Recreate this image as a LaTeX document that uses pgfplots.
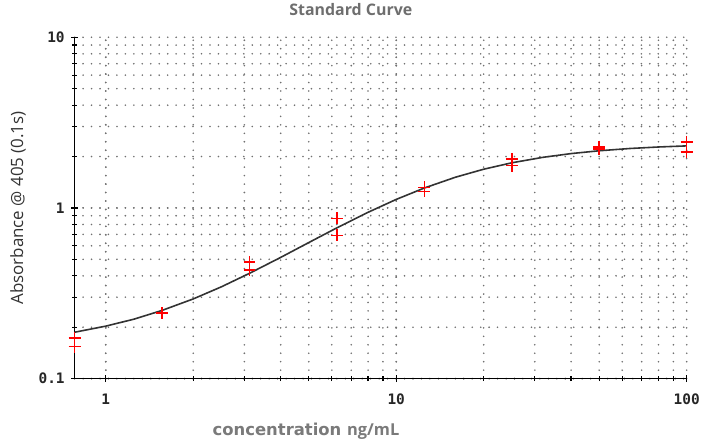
\documentclass[border=0pt]{standalone}
\usepackage{fontspec}
\setmainfont{Open Sans}
\newfontfamily\tickfont{DejaVu Sans Mono}
\newfontfamily\xlabfont{DejaVu Sans}
\usepackage{pgfplots}
\pgfplotsset{compat=1.18}
\definecolor{labgray}{HTML}{7A7A7A}
\definecolor{ylabgray}{HTML}{333333}
\definecolor{griddot}{HTML}{707070}
\begin{document}
\begin{tikzpicture}
\begin{axis}[
  scale only axis,
  width=615bp, height=343bp,
  xmode=log, ymode=log,
  xmin=0.78125, xmax=100,
  ymin=0.1, ymax=10,
  axis x line=bottom, axis y line=left,
  axis line style={line width=1.6bp, black, -},
  xtick={1,10,100}, xticklabels={1,10,100},
  ytick={0.1,1,10}, yticklabels={0.1,1,10},
  tick align=center,
  major tick length=7bp, minor tick length=5bp,
  every tick/.style={black, line width=1.2bp},
  grid=both,
  major grid style={griddot, line width=1.8bp, line cap=round, dash pattern=on 0bp off 8.5bp},
  minor grid style={griddot, line width=1.8bp, line cap=round, dash pattern=on 0bp off 8.5bp},
  ticklabel style={font=\tickfont\bfseries\fontsize{14.5bp}{16bp}\selectfont, text=black!85},
  xticklabel style={yshift=-8bp},
  yticklabel style={xshift=-3bp},
  title={\bfseries Standard Curve},
  title style={font=\fontsize{16bp}{18bp}\selectfont, text=labgray!90!black, at={(axis description cs:0.5,1)}, anchor=center, yshift=22bp, xshift=-30bp},
  xlabel={\xlabfont\bfseries concentration {\fontspec{Open Sans}\bfseries ng/mL}},
  xlabel style={font=\fontsize{16.5bp}{18bp}\selectfont, text=labgray, at={(axis description cs:0.5,0)}, anchor=center, yshift=-53bp, xshift=-75bp},
  ylabel={Absorbance @ 405 (0.1s)},
  ylabel style={font=\fontsize{17bp}{19bp}\selectfont, text=ylabgray, at={(axis description cs:0,0.5)}, anchor=center, yshift=57bp},
  clip=false,
]
\addplot[line width=1.6bp, black!80, no marks] coordinates {
 (0.78125,0.187) (1,0.203) (1.25,0.223) (1.5625,0.251) (2,0.293) (2.5,0.345)
 (3.125,0.414) (4,0.513) (5,0.627) (6.25,0.765) (8,0.943) (10,1.122)
 (12.5,1.309) (16,1.514) (20,1.686) (25,1.839) (32,1.980) (40,2.082)
 (50,2.163) (64,2.231) (80,2.276) (100,2.310)
};
\addplot[only marks, draw=red, mark=+, mark size=6bp, mark options={draw=red, line width=1.5bp, solid}] coordinates {
 (0.78125,0.173) (0.78125,0.154)
 (1.5625,0.242)
 (3.125,0.481) (3.125,0.432)
 (6.25,0.869) (6.25,0.691)
 (12.5,1.32) (12.5,1.25)
 (25,1.94) (25,1.77)
 (50,2.28) (50,2.21)
 (100,2.44) (100,2.13)
};
\end{axis}
\path[use as bounding box] (-75bp,-67bp) rectangle (628bp,379bp);
\end{tikzpicture}
\end{document}
